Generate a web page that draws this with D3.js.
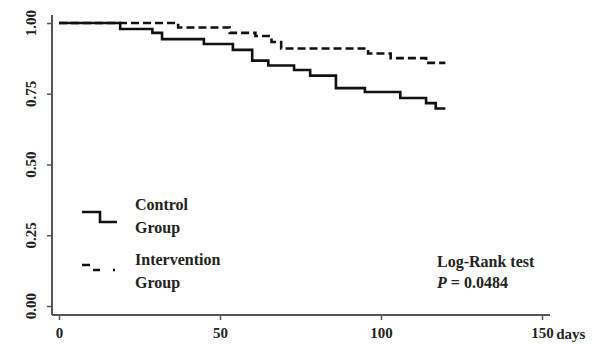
<!DOCTYPE html>
<html>
<head>
<meta charset="utf-8">
<script src="https://cdn.jsdelivr.net/npm/d3@7"></script>
<style>
    body { margin: 0; background: #fff; }
    svg text { font-family: "Liberation Serif", "Times New Roman", serif; font-weight: bold; fill: #222; }
</style>
</head>
<body>
<div id="chart"></div>
<script>
// survival steps (day, proportion)
const controlDays = [0, 19, 29, 32, 45, 54, 60, 65, 73, 78, 86, 95, 106, 114, 117, 120];
const controlSurv = [1.00, 0.979, 0.965, 0.943, 0.926, 0.905, 0.867, 0.850, 0.834, 0.814, 0.770, 0.756, 0.735, 0.717, 0.698, 0.698];
const interventionDays = [0, 37, 53, 61, 66, 69, 96, 103, 114, 120];
const interventionSurv = [1.00, 0.984, 0.965, 0.954, 0.933, 0.910, 0.892, 0.876, 0.859, 0.859];

const xTicks = [0, 50, 100, 150];
const yTicks = [0, 0.25, 0.5, 0.75, 1.0];
const legendLabels = [["Control", "Group"], ["Intervention", "Group"]];

const width = 606, height = 344;
const tickSize = 5;

const svg = d3.select("#chart").append("svg")
    .attr("width", width)
    .attr("height", height);

const x = d3.scaleLinear().domain([0, 150]).range([59, 542]);
const y = d3.scaleLinear().domain([0, 1]).range([306, 23]);

const axisColor = "#555";

// axes
const xAxis = svg.append("g")
    .attr("transform", "translate(0 315)")
    .call(d3.axisBottom(x).tickValues(xTicks).tickSize(tickSize).tickPadding(7).tickFormat(d3.format("d")));
xAxis.select(".domain").remove();
xAxis.selectAll(".tick line").attr("stroke", axisColor).attr("stroke-width", 1.5);
xAxis.selectAll("text").style("font-size", "15px").attr("fill", "#222");
xAxis.append("line")
    .attr("x1", 52).attr("x2", 550)
    .attr("stroke", axisColor).attr("stroke-width", 2);

// "days" after the last tick label
const lastLabel = xAxis.selectAll(".tick text").filter(d => d === 150).node();
const bb = lastLabel.getBBox();
svg.append("text")
    .attr("x", x(150) + bb.width / 2 + 3)
    .attr("y", 315 + tickSize + 7 + bb.height * 0.72)
    .style("font-size", "15px")
    .text("days");

const yAxis = svg.append("g")
    .attr("transform", "translate(52 0)")
    .call(d3.axisLeft(y).tickValues(yTicks).tickSize(tickSize).tickFormat(""));
yAxis.select(".domain").remove();
yAxis.selectAll(".tick line").attr("stroke", axisColor).attr("stroke-width", 1.5);
yAxis.append("line")
    .attr("y1", 15).attr("y2", 315)
    .attr("stroke", axisColor).attr("stroke-width", 2);

svg.selectAll(".ylab")
    .data(yTicks)
    .join("text")
    .attr("class", "ylab")
    .attr("transform", d => `translate(36 ${y(d)}) rotate(-90)`)
    .attr("text-anchor", "middle")
    .style("font-size", "15px")
    .text(d3.format(".2f"));

// curves
const line = d3.line()
    .x(d => x(d[0]))
    .y(d => y(d[1]))
    .curve(d3.curveStepAfter);

svg.append("path")
    .datum(controlDays.map((d, i) => [d, controlSurv[i]]))
    .attr("d", line)
    .attr("fill", "none")
    .attr("stroke", "#111")
    .attr("stroke-width", 2.6);

svg.append("path")
    .datum(interventionDays.map((d, i) => [d, interventionSurv[i]]))
    .attr("d", line)
    .attr("fill", "none")
    .attr("stroke", "#111")
    .attr("stroke-width", 2.6)
    .attr("stroke-dasharray", "8,4");

// legend
const legend = svg.append("g");
legend.append("path")
    .attr("d", "M82,212H100V222H117")
    .attr("fill", "none").attr("stroke", "#111").attr("stroke-width", 2.6);
legend.append("path")
    .attr("d", "M82,265H90V270H120")
    .attr("fill", "none").attr("stroke", "#111").attr("stroke-width", 2.6)
    .attr("stroke-dasharray", "8,8,7,13,2,10");

const legendY = [[210, 233], [265, 288]];
legendLabels.forEach((lines, i) => {
    lines.forEach((t, j) => {
        legend.append("text")
            .attr("x", 135)
            .attr("y", legendY[i][j])
            .style("font-size", "16px")
            .text(t);
    });
});

// test annotation
svg.append("text")
    .attr("x", 437).attr("y", 267)
    .style("font-size", "16px")
    .text("Log-Rank test");
const pText = svg.append("text")
    .attr("x", 437).attr("y", 288)
    .style("font-size", "16px");
pText.append("tspan").style("font-style", "italic").text("P");
pText.append("tspan").text(" = 0.0484");
</script>
</body>
</html>
